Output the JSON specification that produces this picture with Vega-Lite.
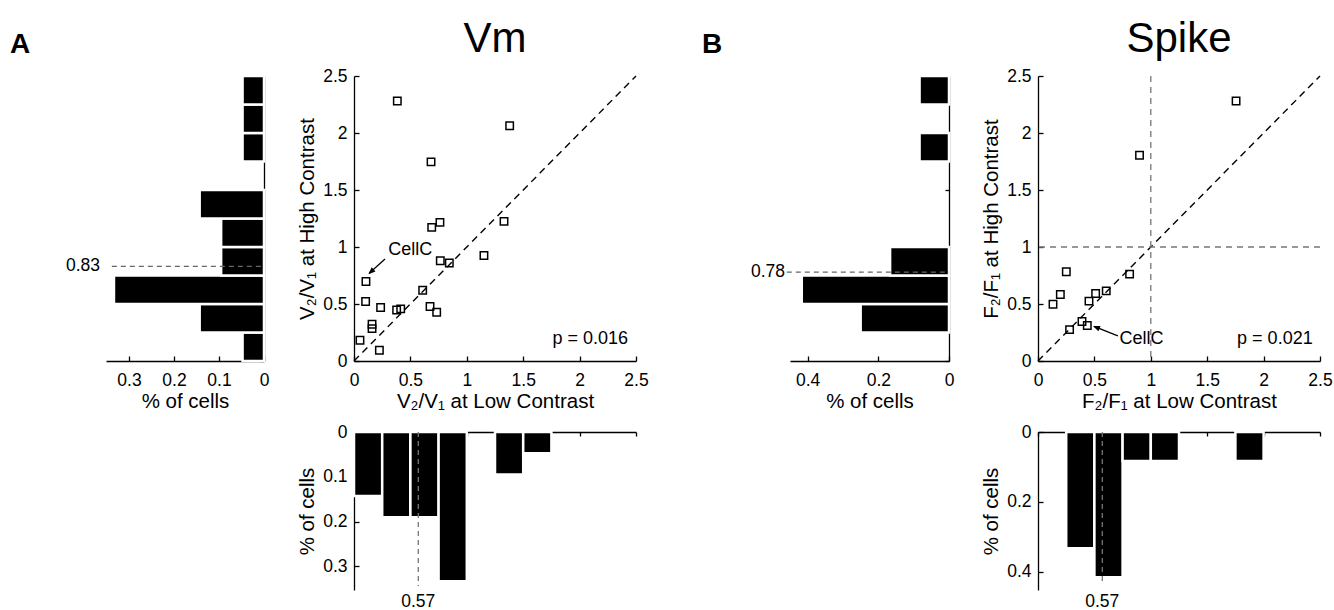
{
  "$schema": "https://vega.github.io/schema/vega-lite/v6.json",
  "background": "white",
  "padding": {"left": 10, "top": 18, "right": 0, "bottom": 0},
  "columns": 7,
  "spacing": {"column": 0, "row": 71},
  "bounds": "flush",
  "align": "each",
  "datasets": {
    "vm_points": [
      {"low": 0.384, "high": 2.28}, {"low": 1.38, "high": 2.063}, {"low": 0.683, "high": 1.747},
      {"low": 0.689, "high": 1.172}, {"low": 0.762, "high": 1.216}, {"low": 1.33, "high": 1.225},
      {"low": 1.152, "high": 0.926}, {"low": 0.765, "high": 0.879}, {"low": 0.845, "high": 0.859},
      {"low": 0.106, "high": 0.698}, {"low": 0.609, "high": 0.621}, {"low": 0.103, "high": 0.522},
      {"low": 0.236, "high": 0.469}, {"low": 0.674, "high": 0.478}, {"low": 0.733, "high": 0.428},
      {"low": 0.378, "high": 0.448}, {"low": 0.414, "high": 0.457}, {"low": 0.16, "high": 0.322},
      {"low": 0.16, "high": 0.284}, {"low": 0.053, "high": 0.182}, {"low": 0.225, "high": 0.094}
    ],
    "spike_points": [
      {"low": 1.756, "high": 2.28}, {"low": 0.9, "high": 1.805}, {"low": 0.251, "high": 0.783},
      {"low": 0.812, "high": 0.762}, {"low": 0.198, "high": 0.583}, {"low": 0.133, "high": 0.498},
      {"low": 0.605, "high": 0.615}, {"low": 0.511, "high": 0.592}, {"low": 0.452, "high": 0.525},
      {"low": 0.39, "high": 0.346}, {"low": 0.437, "high": 0.311}, {"low": 0.28, "high": 0.275}
    ],
    "vm_high_hist": [
      {"bin_start": 0, "bin_end": 0.25, "frac": 0.0476}, {"bin_start": 0.25, "bin_end": 0.5, "frac": 0.1429},
      {"bin_start": 0.5, "bin_end": 0.75, "frac": 0.3333}, {"bin_start": 0.75, "bin_end": 1, "frac": 0.0952},
      {"bin_start": 1, "bin_end": 1.25, "frac": 0.0952}, {"bin_start": 1.25, "bin_end": 1.5, "frac": 0.1429},
      {"bin_start": 1.75, "bin_end": 2, "frac": 0.0476}, {"bin_start": 2, "bin_end": 2.25, "frac": 0.0476},
      {"bin_start": 2.25, "bin_end": 2.5, "frac": 0.0476}
    ],
    "vm_low_hist": [
      {"bin_start": 0, "bin_end": 0.25, "frac": 0.1429}, {"bin_start": 0.25, "bin_end": 0.5, "frac": 0.1905},
      {"bin_start": 0.5, "bin_end": 0.75, "frac": 0.1905}, {"bin_start": 0.75, "bin_end": 1, "frac": 0.3333},
      {"bin_start": 1.25, "bin_end": 1.5, "frac": 0.0952}, {"bin_start": 1.5, "bin_end": 1.75, "frac": 0.0476}
    ],
    "spike_high_hist": [
      {"bin_start": 0.25, "bin_end": 0.5, "frac": 0.25}, {"bin_start": 0.5, "bin_end": 0.75, "frac": 0.4167},
      {"bin_start": 0.75, "bin_end": 1, "frac": 0.1667}, {"bin_start": 1.75, "bin_end": 2, "frac": 0.0833},
      {"bin_start": 2.25, "bin_end": 2.5, "frac": 0.0833}
    ],
    "spike_low_hist": [
      {"bin_start": 0.25, "bin_end": 0.5, "frac": 0.3333}, {"bin_start": 0.5, "bin_end": 0.75, "frac": 0.4167},
      {"bin_start": 0.75, "bin_end": 1, "frac": 0.0833}, {"bin_start": 1, "bin_end": 1.25, "frac": 0.0833},
      {"bin_start": 1.75, "bin_end": 2, "frac": 0.0833}
    ],
    "vm_median": [{"high": 0.83, "low": 0.57}],
    "spike_median": [{"high": 0.78, "low": 0.57}],
    "diag": [{"x": 0, "y": 0}, {"x": 2.5, "y": 2.5}],
    "unity": [{"v": 1}]
  },
  "concat": [
    {
      "width": 158, "height": 285,
      "title": {"text": "A", "anchor": "start", "frame": "group", "dx": -96, "offset": 16, "fontSize": 28, "fontWeight": "bold"},
      "layer": [
        {
          "data": {"name": "vm_high_hist"},
          "mark": {"type": "rect", "color": "black", "stroke": "white", "strokeWidth": 2.5},
          "encoding": {
            "y": {"field": "bin_start", "type": "quantitative", "scale": {"domain": [0, 2.5], "nice": false, "zero": false},
                  "axis": {"orient": "right", "values": [0, 0.5, 1, 1.5, 2, 2.5], "labels": false, "tickSize": -4, "title": null}},
            "y2": {"field": "bin_end"},
            "x": {"field": "frac", "type": "quantitative", "scale": {"domain": [0, 0.351], "reverse": true, "nice": false},
                  "axis": {"values": [0, 0.1, 0.2, 0.3], "format": "~g", "tickSize": -5, "labelPadding": 15, "title": "% of cells", "titlePadding": 3}},
            "x2": {"datum": 0}
          }
        },
        {
          "data": {"name": "vm_median"},
          "mark": {"type": "rule", "color": "#666", "strokeDash": [5, 4], "strokeWidth": 1.3},
          "encoding": {"y": {"field": "high", "type": "quantitative"}, "x": {"datum": 0.338}, "x2": {"datum": 0}}
        },
        {
          "data": {"name": "vm_median"},
          "mark": {"type": "text", "align": "right", "baseline": "middle", "dx": -6, "fontSize": 17.5},
          "encoding": {"y": {"field": "high", "type": "quantitative"}, "x": {"datum": 0.351}, "text": {"field": "high", "type": "quantitative", "format": ".2f"}}
        }
      ]
    },
    {"width": 90, "height": 1, "data": {"values": [{}]}, "mark": {"type": "point", "opacity": 0}},
    {
      "width": 282, "height": 285,
      "title": {"text": "Vm", "offset": 6, "fontSize": 42, "fontWeight": "normal"},
      "layer": [
        {
          "data": {"name": "diag"},
          "mark": {"type": "line", "color": "black", "strokeDash": [7, 5], "strokeWidth": 1.4},
          "encoding": {
            "x": {"field": "x", "type": "quantitative", "scale": {"domain": [0, 2.5], "nice": false},
                  "axis": {"values": [0, 0.5, 1, 1.5, 2, 2.5], "format": "~g", "tickSize": -5, "labelPadding": 15, "title": "V₂/V₁ at Low Contrast", "titlePadding": 3}},
            "y": {"field": "y", "type": "quantitative", "scale": {"domain": [0, 2.5], "nice": false},
                  "axis": {"values": [0, 0.5, 1, 1.5, 2, 2.5], "format": "~g", "tickSize": -5, "labelPadding": 12, "title": "V₂/V₁ at High Contrast", "titlePadding": 5}}
          }
        },
        {
          "data": {"name": "vm_points"},
          "mark": {"type": "point", "shape": "square", "filled": false, "color": "black", "opacity": 1, "strokeWidth": 1.5, "size": 55},
          "encoding": {"x": {"field": "low", "type": "quantitative"}, "y": {"field": "high", "type": "quantitative"}}
        },
        {
          "data": {"values": [{"note": "p = 0.016"}]},
          "mark": {"type": "text", "align": "right", "baseline": "middle", "fontSize": 18},
          "encoding": {"x": {"datum": 2.43}, "y": {"datum": 0.19}, "text": {"field": "note"}}
        },
        {
          "data": {"values": [{"note": "CellC"}]},
          "mark": {"type": "text", "align": "left", "baseline": "middle", "fontSize": 18},
          "encoding": {"x": {"datum": 0.304}, "y": {"datum": 0.976}, "text": {"field": "note"}}
        },
        {
          "data": {"values": [{"note": "CellC"}]},
          "mark": {"type": "rule", "color": "black", "strokeWidth": 1.3},
          "encoding": {"x": {"datum": 0.275}, "y": {"datum": 0.894}, "x2": {"datum": 0.135}, "y2": {"datum": 0.769}}
        },
        {
          "data": {"values": [{"note": "CellC"}]},
          "mark": {"type": "point", "shape": "M0,0L-0.4,1L0.4,1Z", "filled": true, "color": "black", "opacity": 1, "size": 200, "angle": 228},
          "encoding": {"x": {"datum": 0.127}, "y": {"datum": 0.762}}
        }
      ]
    },
    {"width": 154, "height": 1, "data": {"values": [{}]}, "mark": {"type": "point", "opacity": 0}},
    {
      "width": 159, "height": 285,
      "title": {"text": "B", "anchor": "start", "frame": "group", "dx": -88, "offset": 16, "fontSize": 28, "fontWeight": "bold"},
      "layer": [
        {
          "data": {"name": "spike_high_hist"},
          "mark": {"type": "rect", "color": "black", "stroke": "white", "strokeWidth": 2.5},
          "encoding": {
            "y": {"field": "bin_start", "type": "quantitative", "scale": {"domain": [0, 2.5], "nice": false, "zero": false},
                  "axis": {"orient": "right", "values": [0, 0.5, 1, 1.5, 2, 2.5], "labels": false, "tickSize": -4, "title": null}},
            "y2": {"field": "bin_end"},
            "x": {"field": "frac", "type": "quantitative", "scale": {"domain": [0, 0.45], "reverse": true, "nice": false},
                  "axis": {"values": [0, 0.2, 0.4], "format": "~g", "tickSize": -5, "labelPadding": 15, "title": "% of cells", "titlePadding": 3}},
            "x2": {"datum": 0}
          }
        },
        {
          "data": {"name": "spike_median"},
          "mark": {"type": "rule", "color": "#666", "strokeDash": [5, 4], "strokeWidth": 1.3},
          "encoding": {"y": {"field": "high", "type": "quantitative"}, "x": {"datum": 0.459}, "x2": {"datum": 0}}
        },
        {
          "data": {"name": "spike_median"},
          "mark": {"type": "text", "align": "right", "baseline": "middle", "dx": -5, "fontSize": 17.5},
          "encoding": {"y": {"field": "high", "type": "quantitative"}, "x": {"datum": 0.45}, "text": {"field": "high", "type": "quantitative", "format": ".2f"}}
        }
      ]
    },
    {"width": 89, "height": 1, "data": {"values": [{}]}, "mark": {"type": "point", "opacity": 0}},
    {
      "width": 282, "height": 285,
      "title": {"text": "Spike", "offset": 6, "fontSize": 42, "fontWeight": "normal"},
      "layer": [
        {
          "data": {"name": "diag"},
          "mark": {"type": "line", "color": "black", "strokeDash": [7, 5], "strokeWidth": 1.4},
          "encoding": {
            "x": {"field": "x", "type": "quantitative", "scale": {"domain": [0, 2.5], "nice": false},
                  "axis": {"values": [0, 0.5, 1, 1.5, 2, 2.5], "format": "~g", "tickSize": -5, "labelPadding": 15, "title": "F₂/F₁ at Low Contrast", "titlePadding": 3}},
            "y": {"field": "y", "type": "quantitative", "scale": {"domain": [0, 2.5], "nice": false},
                  "axis": {"values": [0, 0.5, 1, 1.5, 2, 2.5], "format": "~g", "tickSize": -5, "labelPadding": 12, "title": "F₂/F₁ at High Contrast", "titlePadding": 5}}
          }
        },
        {
          "data": {"name": "unity"},
          "mark": {"type": "rule", "color": "#777", "strokeDash": [6, 5], "strokeWidth": 1.3},
          "encoding": {"x": {"field": "v", "type": "quantitative"}}
        },
        {
          "data": {"name": "unity"},
          "mark": {"type": "rule", "color": "#777", "strokeDash": [6, 5], "strokeWidth": 1.3},
          "encoding": {"y": {"field": "v", "type": "quantitative"}}
        },
        {
          "data": {"name": "spike_points"},
          "mark": {"type": "point", "shape": "square", "filled": false, "color": "black", "opacity": 1, "strokeWidth": 1.5, "size": 55},
          "encoding": {"x": {"field": "low", "type": "quantitative"}, "y": {"field": "high", "type": "quantitative"}}
        },
        {
          "data": {"values": [{"note": "p = 0.021"}]},
          "mark": {"type": "text", "align": "right", "baseline": "middle", "fontSize": 18},
          "encoding": {"x": {"datum": 2.435}, "y": {"datum": 0.19}, "text": {"field": "note"}}
        },
        {
          "data": {"values": [{"note": "CellC"}]},
          "mark": {"type": "text", "align": "left", "baseline": "middle", "fontSize": 18},
          "encoding": {"x": {"datum": 0.723}, "y": {"datum": 0.19}, "text": {"field": "note"}}
        },
        {
          "data": {"values": [{"note": "CellC"}]},
          "mark": {"type": "rule", "color": "black", "strokeWidth": 1.3},
          "encoding": {"x": {"datum": 0.708}, "y": {"datum": 0.22}, "x2": {"datum": 0.497}, "y2": {"datum": 0.304}}
        },
        {
          "data": {"values": [{"note": "CellC"}]},
          "mark": {"type": "point", "shape": "M0,0L-0.4,1L0.4,1Z", "filled": true, "color": "black", "opacity": 1, "size": 200, "angle": 292},
          "encoding": {"x": {"datum": 0.487}, "y": {"datum": 0.308}}
        }
      ]
    },
    {"width": 1, "height": 1, "data": {"values": [{}]}, "mark": {"type": "point", "opacity": 0}},
    {"width": 1, "height": 1, "data": {"values": [{}]}, "mark": {"type": "point", "opacity": 0}},
    {
      "width": 282, "height": 158,
      "layer": [
        {
          "data": {"name": "vm_low_hist"},
          "mark": {"type": "rect", "color": "black", "stroke": "white", "strokeWidth": 2.5},
          "encoding": {
            "x": {"field": "bin_start", "type": "quantitative", "scale": {"domain": [0, 2.5], "nice": false, "zero": false},
                  "axis": {"orient": "top", "values": [0, 0.5, 1, 1.5, 2, 2.5], "labels": false, "tickSize": -4, "title": null}},
            "x2": {"field": "bin_end"},
            "y": {"field": "frac", "type": "quantitative", "scale": {"domain": [0, 0.353], "reverse": true, "nice": false},
                  "axis": {"values": [0, 0.1, 0.2, 0.3], "format": "~g", "tickSize": -5, "labelPadding": 12, "title": "% of cells", "titlePadding": 5}},
            "y2": {"datum": 0}
          }
        },
        {
          "data": {"name": "vm_median"},
          "mark": {"type": "rule", "color": "#777", "strokeDash": [5, 4], "strokeWidth": 1.3},
          "encoding": {"x": {"field": "low", "type": "quantitative"}, "y": {"datum": 0}, "y2": {"datum": 0.344}}
        },
        {
          "data": {"name": "vm_median"},
          "mark": {"type": "text", "align": "center", "baseline": "top", "dy": 3, "fontSize": 17.5},
          "encoding": {"x": {"field": "low", "type": "quantitative"}, "y": {"datum": 0.353}, "text": {"field": "low", "type": "quantitative", "format": ".2f"}}
        }
      ]
    },
    {"width": 1, "height": 1, "data": {"values": [{}]}, "mark": {"type": "point", "opacity": 0}},
    {"width": 1, "height": 1, "data": {"values": [{}]}, "mark": {"type": "point", "opacity": 0}},
    {"width": 1, "height": 1, "data": {"values": [{}]}, "mark": {"type": "point", "opacity": 0}},
    {
      "width": 282, "height": 158,
      "layer": [
        {
          "data": {"name": "spike_low_hist"},
          "mark": {"type": "rect", "color": "black", "stroke": "white", "strokeWidth": 2.5},
          "encoding": {
            "x": {"field": "bin_start", "type": "quantitative", "scale": {"domain": [0, 2.5], "nice": false, "zero": false},
                  "axis": {"orient": "top", "values": [0, 0.5, 1, 1.5, 2, 2.5], "labels": false, "tickSize": -4, "title": null}},
            "x2": {"field": "bin_end"},
            "y": {"field": "frac", "type": "quantitative", "scale": {"domain": [0, 0.453], "reverse": true, "nice": false},
                  "axis": {"values": [0, 0.2, 0.4], "format": "~g", "tickSize": -5, "labelPadding": 12, "title": "% of cells", "titlePadding": 5}},
            "y2": {"datum": 0}
          }
        },
        {
          "data": {"name": "spike_median"},
          "mark": {"type": "rule", "color": "#777", "strokeDash": [5, 4], "strokeWidth": 1.3},
          "encoding": {"x": {"field": "low", "type": "quantitative"}, "y": {"datum": 0}, "y2": {"datum": 0.432}}
        },
        {
          "data": {"name": "spike_median"},
          "mark": {"type": "text", "align": "center", "baseline": "top", "dy": 3, "fontSize": 17.5},
          "encoding": {"x": {"field": "low", "type": "quantitative"}, "y": {"datum": 0.453}, "text": {"field": "low", "type": "quantitative", "format": ".2f"}}
        }
      ]
    }
  ],
  "config": {
    "font": "Liberation Sans",
    "view": {"stroke": null},
    "title": {"color": "black", "font": "Liberation Sans"},
    "text": {"font": "Liberation Sans", "color": "black"},
    "axis": {
      "grid": false, "zindex": 1,
      "labelFont": "Liberation Sans", "labelFontSize": 17.5, "labelColor": "black",
      "titleFont": "Liberation Sans", "titleFontSize": 20.5, "titleFontWeight": "normal", "titleColor": "black",
      "domainColor": "black", "domainWidth": 1.3, "tickColor": "black", "tickWidth": 1.3,
      "labelFlush": false, "labelOverlap": false
    }
  }
}
